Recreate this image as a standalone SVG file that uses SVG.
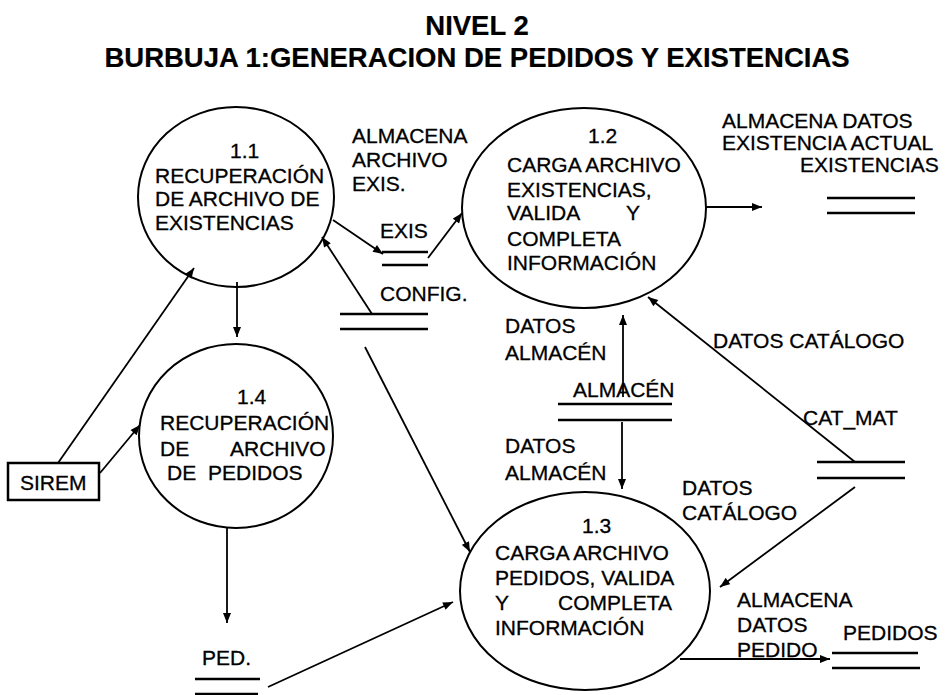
<svg xmlns="http://www.w3.org/2000/svg" width="950" height="695" viewBox="0 0 950 695">
<defs>
<style>
text{font-family:"Liberation Sans",Arial,Helvetica,sans-serif;font-size:21px;fill:#000;stroke:#000;stroke-width:0.3}
.title{font-weight:bold;font-size:27.5px;text-anchor:middle;stroke-width:0.2}
.bub{fill:none;stroke:#000;stroke-width:2}
.store{stroke:#000;stroke-width:2.5;fill:none}
.flow{stroke:#000;stroke-width:1.8;fill:none;marker-end:url(#ah)}
.ext{fill:none;stroke:#000;stroke-width:2.5}
</style>
<marker id="ah" viewBox="0 0 10 8" refX="10" refY="4" markerWidth="11" markerHeight="8" markerUnits="userSpaceOnUse" orient="auto"><path d="M0,0 L10,4 L0,8 z" fill="#000"/></marker>
</defs>
<rect width="950" height="695" fill="#fff"/>
<g id="title">
<text class="title" x="477" y="35">NIVEL 2</text>
<text class="title" x="477" y="67">BURBUJA 1:GENERACION DE PEDIDOS Y EXISTENCIAS</text>
</g>
<g id="p1_1">
<ellipse class="bub" cx="236" cy="197" rx="98" ry="90"/>
<text x="230" y="158">1.1</text>
<text x="155" y="183">RECUPERACIÓN</text>
<text x="155" y="206">DE ARCHIVO DE</text>
<text x="155" y="230">EXISTENCIAS</text>
</g>
<g id="p1_2">
<ellipse class="bub" cx="584" cy="208" rx="122" ry="100"/>
<text x="588" y="143">1.2</text>
<text x="507" y="172">CARGA ARCHIVO</text>
<text x="507" y="197">EXISTENCIAS,</text>
<text x="507" y="220">VALIDA <tspan x="626">Y</tspan></text>
<text x="507" y="246">COMPLETA</text>
<text x="507" y="270">INFORMACIÓN</text>
</g>
<g id="p1_3">
<ellipse class="bub" cx="585" cy="591" rx="125" ry="99"/>
<text x="582" y="533">1.3</text>
<text x="495" y="560">CARGA ARCHIVO</text>
<text x="495" y="585">PEDIDOS, VALIDA</text>
<text x="495" y="610">Y <tspan x="558">COMPLETA</tspan></text>
<text x="495" y="635">INFORMACIÓN</text>
</g>
<g id="p1_4">
<ellipse class="bub" cx="236" cy="436" rx="97" ry="92"/>
<text x="237" y="404">1.4</text>
<text x="160" y="430">RECUPERACIÓN</text>
<text x="160" y="456">DE <tspan x="230">ARCHIVO</tspan></text>
<text x="167" y="480">DE <tspan x="208">PEDIDOS</tspan></text>
</g>
<g id="sirem">
<rect class="ext" x="8" y="463" width="91" height="37"/>
<text x="20" y="490">SIREM</text>
</g>
<g id="store_exis">
<text x="380" y="238">EXIS</text>
<line class="store" x1="382" y1="252" x2="428" y2="252"/>
<line class="store" x1="382" y1="265" x2="428" y2="265"/>
</g>
<g id="store_config">
<text x="380" y="301">CONFIG.</text>
<line class="store" x1="340" y1="314" x2="428" y2="314"/>
<line class="store" x1="340" y1="329" x2="428" y2="329"/>
</g>
<g id="store_existencias">
<text x="800" y="172">EXISTENCIAS</text>
<line class="store" x1="827" y1="198" x2="915" y2="198"/>
<line class="store" x1="827" y1="213" x2="915" y2="213"/>
</g>
<g id="store_almacen">
<text x="573" y="397">ALMACÉN</text>
<line class="store" x1="558" y1="404" x2="672" y2="404"/>
<line class="store" x1="558" y1="420" x2="672" y2="420"/>
</g>
<g id="store_catmat">
<text x="803" y="425">CAT_MAT</text>
<line class="store" x1="817" y1="462" x2="905" y2="462"/>
<line class="store" x1="817" y1="478" x2="905" y2="478"/>
</g>
<g id="store_ped">
<text x="202" y="665">PED.</text>
<line class="store" x1="195" y1="679" x2="260" y2="679"/>
<line class="store" x1="195" y1="694" x2="258" y2="694"/>
</g>
<g id="store_pedidos">
<text x="843" y="640">PEDIDOS</text>
<line class="store" x1="832" y1="653" x2="918" y2="653"/>
<line class="store" x1="832" y1="668" x2="920" y2="668"/>
</g>
<g id="connectors">
<path class="flow" d="M333,220 L383,254"/>
<path class="flow" d="M428,258 L462,213"/>
<path class="flow" d="M372,314 L322,237"/>
<path class="flow" d="M365,347 L470,552"/>
<path class="flow" d="M58,463 L194,268"/>
<path class="flow" d="M100,473 L140,425"/>
<path class="flow" d="M237,282 L237,337"/>
<path class="flow" d="M227,528 L227,623"/>
<path class="flow" d="M268,687 L453,602"/>
<path class="flow" d="M706,207 L762,207"/>
<path class="flow" d="M623,397 L623,315"/>
<path class="flow" d="M622,422 L622,489"/>
<path class="flow" d="M855,462 L648,297"/>
<path class="flow" d="M855,487 L720,587"/>
<path class="flow" d="M680,659 L830,659"/>
</g>
<g id="labels">
<text x="352" y="143">ALMACENA</text>
<text x="352" y="167">ARCHIVO</text>
<text x="352" y="191">EXIS.</text>
<text x="722" y="128">ALMACENA DATOS</text>
<text x="722" y="150">EXISTENCIA ACTUAL</text>
<text x="505" y="333">DATOS</text>
<text x="505" y="360">ALMACÉN</text>
<text x="505" y="453">DATOS</text>
<text x="505" y="480">ALMACÉN</text>
<text x="713" y="348">DATOS CATÁLOGO</text>
<text x="682" y="495">DATOS</text>
<text x="682" y="520">CATÁLOGO</text>
<text x="737" y="607">ALMACENA</text>
<text x="737" y="632">DATOS</text>
<text x="737" y="657">PEDIDO</text>
</g>
</svg>
